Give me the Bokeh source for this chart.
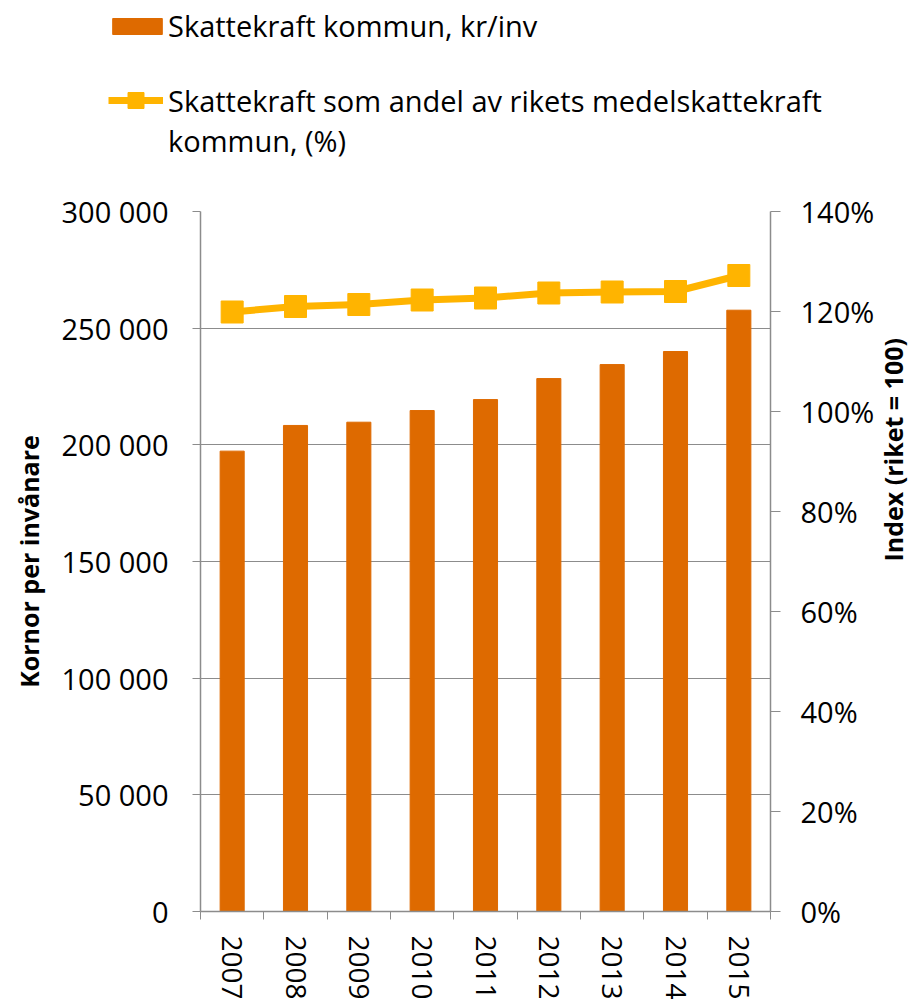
import math
from bokeh.plotting import figure
from bokeh.layouts import column
from bokeh.models import (Range1d, LinearAxis, FixedTicker, Legend, LegendItem,
                          PrintfTickFormatter)
from bokeh.embed import file_html
from bokeh.resources import INLINE

# ---- data ----
years = ["2007", "2008", "2009", "2010", "2011", "2012", "2013", "2014", "2015"]
skattekraft_kr = [197300, 208300, 209700, 214700, 219400, 228400, 234400, 240000, 257700]
andel_pct = [119.9, 121.0, 121.4, 122.3, 122.7, 123.7, 123.9, 124.0, 127.2]
left_ticks = [0, 50000, 100000, 150000, 200000, 250000, 300000]
right_ticks = [0, 20, 40, 60, 80, 100, 120, 140]
bar_label = "Skattekraft kommun, kr/inv"
line_label_1 = "Skattekraft som andel av rikets medelskattekraft"
line_label_2 = "kommun, (%)"
left_title = "Kornor per invånare"
right_title = "Index (riket = 100)"

# ---- style ----
FONT = "Open Sans"
BAR = "#DE6A00"
LINE = "#FFB400"
GRID = "#8C8C8C"
W = 919
LH = 175                     # legend strip height
FW, FH = 570, 700
BL, BT, BR, BB = 200, 211 - LH, 149, 90

xs = list(range(1, len(years) + 1))
x0, x1 = 0.5, len(years) + 0.5

p = figure(frame_width=FW, frame_height=FH,
           x_range=Range1d(x0, x1), y_range=Range1d(left_ticks[0], left_ticks[-1]),
           output_backend="svg", toolbar_location=None,
           min_border_left=BL, min_border_top=BT, min_border_right=BR, min_border_bottom=BB)
p.outline_line_color = None
p.extra_y_ranges = {"pct": Range1d(right_ticks[0], right_ticks[-1])}

# grid
p.xgrid.visible = False
p.ygrid.ticker = FixedTicker(ticks=left_ticks)
p.ygrid.grid_line_color = GRID
p.ygrid.grid_line_width = 1

# x axis
xa = p.xaxis[0]
xa.ticker = FixedTicker(ticks=xs, minor_ticks=[i + 0.5 for i in range(len(years) + 1)])
xa.major_label_overrides = {i: y for i, y in zip(xs, years)}
xa.major_label_orientation = -math.pi / 2
xa.major_tick_out = 0
xa.major_tick_in = 0
xa.minor_tick_out = 8
xa.minor_tick_in = 0
xa.minor_tick_line_color = GRID
xa.axis_line_color = GRID
xa.axis_line_width = 1.5
xa.major_label_standoff = 16
xa.major_label_text_font = FONT
xa.major_label_text_font_size = "28px"
xa.major_label_text_color = "black"

# left axis
ya = p.yaxis[0]
ya.ticker = FixedTicker(ticks=left_ticks)
ya.major_label_overrides = {t: f"{t:,}".replace(",", " ") for t in left_ticks}
ya.major_tick_out = 8
ya.major_tick_in = 0
ya.minor_tick_out = 0
ya.minor_tick_in = 0
ya.major_tick_line_color = GRID
ya.axis_line_color = GRID
ya.axis_line_width = 1.5
ya.major_label_standoff = 24
ya.major_label_text_font = FONT
ya.major_label_text_font_size = "29px"
ya.major_label_text_color = "black"
ya.axis_label = left_title
ya.axis_label_text_font = FONT
ya.axis_label_text_font_style = "bold"
ya.axis_label_text_font_size = "25px"
ya.axis_label_text_color = "black"
ya.axis_label_standoff = 12

# right axis
ra = LinearAxis(y_range_name="pct", ticker=FixedTicker(ticks=right_ticks),
                formatter=PrintfTickFormatter(format="%d%%"))
ra.major_tick_out = 10
ra.major_tick_in = 0
ra.minor_tick_out = 0
ra.minor_tick_in = 0
ra.major_tick_line_color = GRID
ra.axis_line_color = GRID
ra.axis_line_width = 1.5
ra.major_label_standoff = 20
ra.major_label_text_font = FONT
ra.major_label_text_font_size = "29px"
ra.major_label_text_color = "black"
ra.axis_label = right_title
ra.axis_label_text_font = FONT
ra.axis_label_text_font_style = "bold"
ra.axis_label_text_font_size = "25px"
ra.axis_label_text_color = "black"
ra.axis_label_standoff = 16
if "axis_label_orientation" in ra.properties():
    ra.axis_label_orientation = math.pi / 2
p.add_layout(ra, "right")

# marks
p.vbar(x=xs, top=skattekraft_kr, width=0.38, fill_color=BAR, line_color=BAR)
p.line(xs, andel_pct, y_range_name="pct", line_width=7, line_color=LINE)
p.scatter(xs, andel_pct, y_range_name="pct", marker="square", size=22,
          fill_color=LINE, line_color=LINE)

# ---- legend strip (same styles, renderers kept outside the visible range) ----
q = figure(frame_width=W, frame_height=LH, x_range=Range1d(0, 1), y_range=Range1d(0, 1),
           output_backend="svg", toolbar_location=None,
           x_axis_location=None, y_axis_location=None,
           min_border_left=0, min_border_right=0, min_border_top=0, min_border_bottom=0)
q.outline_line_color = None
q.xgrid.visible = False
q.ygrid.visible = False
for fig in (p, q):
    if "frame_align" in fig.properties():
        fig.frame_align = False
off = [5, 6]
lb = q.vbar(x=off, top=off, width=0.38, fill_color=BAR, line_color=BAR)
ll = q.line(off, off, line_width=7, line_color=LINE)
lm = q.scatter(off, off, marker="square", size=22, fill_color=LINE, line_color=LINE)
lnone = q.line(off, off, line_alpha=0)


def make_legend(items, loc, gw, gh, standoff):
    return Legend(items=items, location=loc, orientation="vertical",
                  glyph_width=gw, glyph_height=gh, label_standoff=standoff,
                  padding=0, margin=0, spacing=0,
                  border_line_color=None, background_fill_alpha=0,
                  label_text_font=FONT, label_text_font_size="29px",
                  label_text_color="black")


q.add_layout(make_legend([LegendItem(label=bar_label, renderers=[lb])],
                         (106, 130), 62, 20, 0), "center")
q.add_layout(make_legend([LegendItem(label=line_label_1, renderers=[ll, lm]),
                          LegendItem(label=line_label_2, renderers=[lnone])],
                         (108, 15), 55, 40, 5), "center")

layout = column(q, p, spacing=0)
open("out.html", "w").write(file_html(layout, INLINE))
